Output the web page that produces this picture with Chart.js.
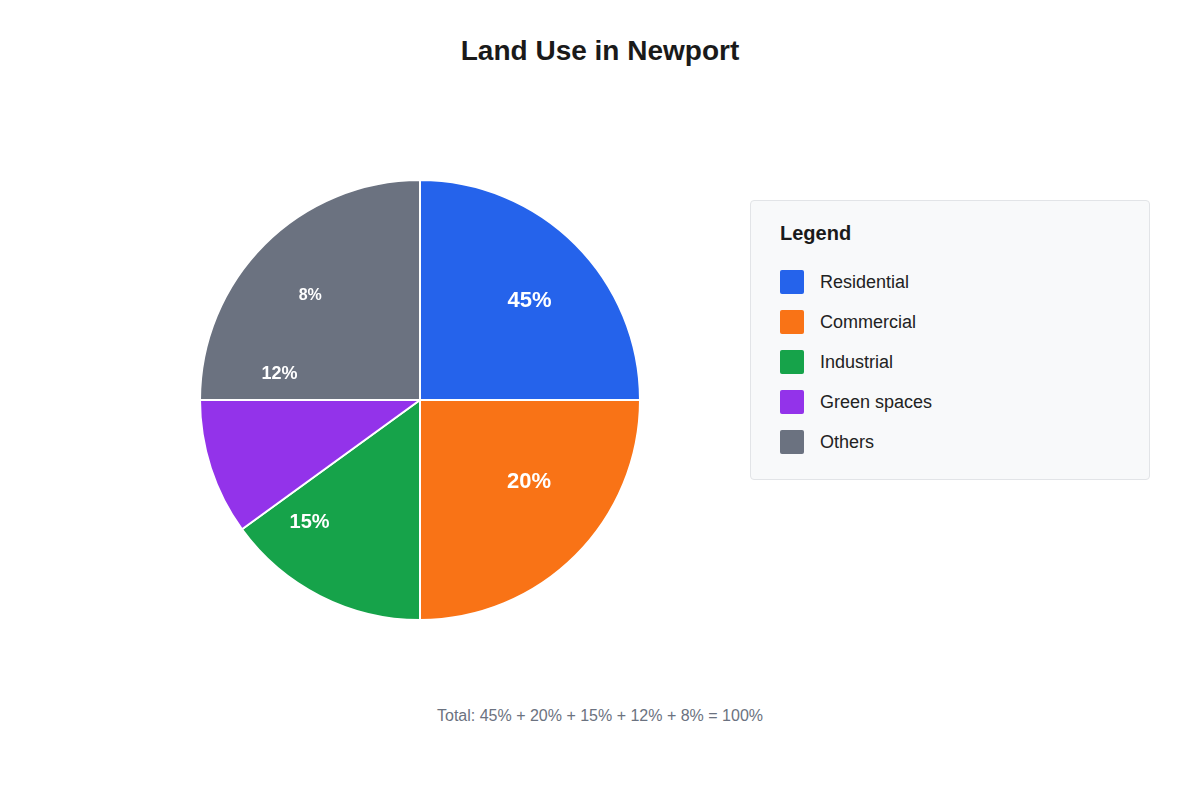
<!DOCTYPE html>
<html>
<head>
<meta charset="utf-8">
<title>Land Use in Newport</title>
<script src="https://cdn.jsdelivr.net/npm/chart.js@4.4.0/dist/chart.umd.min.js"></script>
<style>
    html, body {
        margin: 0;
        padding: 0;
        background: #ffffff;
        font-family: "Liberation Sans", Arial, sans-serif;
    }
    .page {
        position: relative;
        width: 1200px;
        height: 800px;
        overflow: hidden;
    }
    h1 {
        position: absolute;
        top: 35px;
        left: 0;
        width: 1200px;
        margin: 0;
        text-align: center;
        font-size: 28px;
        font-weight: bold;
        color: #1a1a1a;
    }
    #pieWrap {
        position: absolute;
        left: 199px;
        top: 179px;
        width: 442px;
        height: 442px;
    }
    .legend-box {
        position: absolute;
        left: 750px;
        top: 200px;
        width: 400px;
        height: 280px;
        box-sizing: border-box;
        background: #f8f9fa;
        border: 1px solid #e2e4e7;
        border-radius: 4px;
    }
    .legend-box h2 {
        position: absolute;
        left: 29px;
        top: 21px;
        margin: 0;
        font-size: 20px;
        font-weight: bold;
        color: #1a1a1a;
    }
    .legend-item {
        position: absolute;
        left: 29px;
        height: 24px;
        display: flex;
        align-items: center;
        font-size: 18px;
        color: #222222;
    }
    .legend-item span.swatch {
        width: 24px;
        height: 24px;
        border-radius: 2px;
        margin-right: 16px;
    }
    .footer {
        position: absolute;
        top: 707px;
        left: 0;
        width: 1200px;
        text-align: center;
        font-size: 16px;
        color: #6b7280;
    }
</style>
</head>
<body>
<div class="page">
    <h1>Land Use in Newport</h1>
    <div id="pieWrap"><canvas id="landUseChart"></canvas></div>
    <div class="legend-box" id="legendBox"><h2>Legend</h2></div>
    <div class="footer" id="footer"></div>
</div>

<script>
// categories and the percentages printed on the chart
const categories = ['Residential', 'Commercial', 'Industrial', 'Green spaces', 'Others'];
const sharePercents = [45, 20, 15, 12, 8];
// arc sizes as they are actually drawn in the picture (share of the full circle)
const sliceSizes = [25, 25, 15, 10, 25];
const sliceColors = ['#2563eb', '#f97316', '#16a34a', '#9333ea', '#6b7280'];

/**
 * Draws the percentage labels inside the pie
 */
const percentLabels = {
    id: 'percentLabels',
    afterDatasetsDraw(chart, args, opts) {
        const ctx = chart.ctx;
        const arc = chart.getDatasetMeta(0).data[0];
        const cx = arc.x;
        const cy = arc.y;
        const radius = arc.outerRadius;
        ctx.save();
        ctx.fillStyle = '#ffffff';
        ctx.textAlign = 'center';
        ctx.textBaseline = 'middle';
        sharePercents.forEach((value, i) => {
            const place = opts.placement[i];
            const a = place.angle * Math.PI / 180;
            const x = cx + Math.sin(a) * radius * place.r;
            const y = cy - Math.cos(a) * radius * place.r;
            ctx.font = 'bold ' + opts.sizes[i] + 'px "Liberation Sans", Arial, sans-serif';
            ctx.fillText(value + '%', x, y);
        });
        ctx.restore();
    }
};

const chart = new Chart(document.getElementById('landUseChart'), {
    type: 'pie',
    data: {
        labels: categories,
        datasets: [{
            data: sliceSizes,
            backgroundColor: sliceColors,
            borderColor: '#ffffff',
            borderWidth: 2
        }]
    },
    options: {
        responsive: true,
        maintainAspectRatio: false,
        animation: false,
        layout: { padding: 0 },
        plugins: {
            legend: { display: false },
            tooltip: { enabled: false },
            percentLabels: {
                // angle clockwise from 12 o'clock, r as a fraction of the radius
                placement: [
                    { angle: 48, r: 0.67 },
                    { angle: 127, r: 0.62 },
                    { angle: 222, r: 0.75 },
                    { angle: 280.5, r: 0.65 },
                    { angle: 313.7, r: 0.69 }
                ],
                sizes: [22, 22, 20, 18, 16]
            }
        }
    },
    plugins: [percentLabels]
});

// html legend
const legendBox = document.getElementById('legendBox');
categories.forEach((name, i) => {
    const item = document.createElement('div');
    item.className = 'legend-item';
    item.style.top = (69 + i * 40) + 'px';
    item.innerHTML = '<span class="swatch" style="background:' + sliceColors[i] + '"></span>' + name;
    legendBox.appendChild(item);
});

// footer line
const total = sharePercents.reduce((s, v) => s + v, 0);
document.getElementById('footer').textContent =
    'Total: ' + sharePercents.map(v => v + '%').join(' + ') + ' = ' + total + '%';
</script>
</body>
</html>
